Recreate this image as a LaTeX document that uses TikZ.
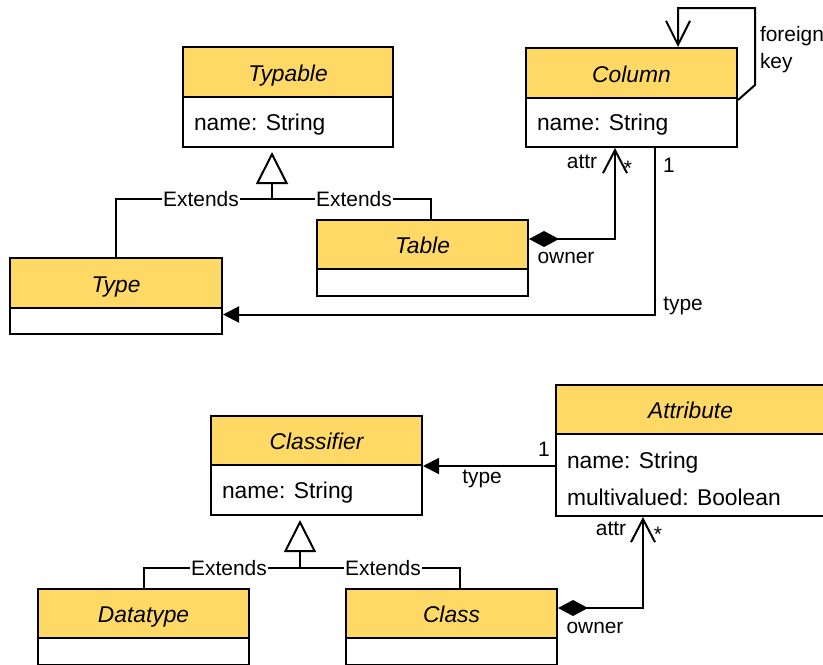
\documentclass[tikz,border=0pt]{standalone}
\usepackage{fontspec}
\setmainfont{Liberation Sans}
\usetikzlibrary{arrows.meta}
\definecolor{hdrfill}{HTML}{FFD966}
\begin{document}
\begin{tikzpicture}[x=0.5pt,y=-0.5pt, line width=1pt,
  hbox/.style={draw, fill=hdrfill, anchor=north west, inner sep=0pt,
    font=\fontsize{11.4}{13}\selectfont\itshape, text height=10pt, text depth=1pt},
  bbox/.style={draw, fill=white, anchor=north west, inner sep=0pt},
  atxt/.style={anchor=base west, inner sep=0pt, font=\fontsize{11.4}{13}\selectfont},
  lbl/.style={anchor=base, inner sep=0pt, font=\fontsize{10.45}{12.5}\selectfont},
  ext/.style={fill=white, inner xsep=0.8pt, inner ysep=1pt, text height=7.5pt, text depth=0pt,
    font=\fontsize{10.45}{12.5}\selectfont},
  gen/.style={-{Triangle[open,length=16pt,width=16pt]}, shorten >=2pt},
  comp/.style={{Diamond[length=15pt,width=8pt]}-{Straight Barb[length=11.5pt,width=12pt]}},
  refarr/.style={-{Triangle[length=8pt,width=8pt]}},
  fkarr/.style={-{Straight Barb[length=12pt,width=12pt]}}
]
\useasboundingbox (0,0) rectangle (823,664);
\clip (0,0) rectangle (823,664);

% ---- top part ----
\node[hbox, minimum width=105pt, minimum height=25pt] (typableH) at (182,46) {Typable};
\node[bbox, minimum width=105pt, minimum height=25pt] (typableB) at (182,96) {};
\node[atxt] (typableA) at (193,130) {name: String};

\node[hbox, minimum width=105.5pt, minimum height=25pt] (colH) at (525,47) {Column};
\node[bbox, minimum width=105.5pt, minimum height=24.5pt] (colB) at (525,97) {};
\node[atxt] (colA) at (536,130) {name: String};

\node[hbox, minimum width=106pt, minimum height=25pt] (typeH) at (9,257) {Type};
\node[bbox, minimum width=106pt, minimum height=13pt] (typeB) at (9,307) {};

\node[hbox, minimum width=105.5pt, minimum height=24.5pt] (tabH) at (316,219) {Table};
\node[bbox, minimum width=105.5pt, minimum height=13.5pt] (tabB) at (316,268) {};

% generalization (top)
\coordinate (g1) at (272,199);
\coordinate (x431) at (431,0);
\draw[gen] (g1) -- (typableB.south -| g1);
\draw (typeH.north) |- (g1) -| (tabH.north -| x431);
\node[ext] (e1) at (201,199) {Extends};
\node[ext] (e2) at (354,199) {Extends};

% foreign key self loop
\coordinate (fkA) at (755,85);
\coordinate (fkB) at (755,8);
\coordinate (fkC) at (678,8);
\draw[fkarr] ([yshift=-1.5pt]colB.north east) -- (fkA) -- (fkB) -- (fkC) -- (colH.north -| fkC);
\node[lbl, anchor=base west] (fk1) at (759,41) {foreign};
\node[lbl, anchor=base west] (fk2) at (759,68) {key};

% composition Table -> Column
\coordinate (x615) at (615,0);
\draw[comp] ([yshift=2.75pt]tabH.east) -| (colB.south -| x615);
\node[lbl] (l1) at (582,168) {attr};
\node[lbl] (l2) at (628,175) {*};
\node[lbl] (l3) at (566,263) {owner};

% reference Column -> Type
\coordinate (x655) at (655,0);
\draw[refarr] (colB.south -| x655) |- ([yshift=3.25pt]typeB.east);
\node[lbl] (l4) at (669,172) {1};
\node[lbl] (l5) at (683,310) {type};

% ---- bottom part ----
\node[hbox, minimum width=105.5pt, minimum height=24.5pt] (clsH) at (210,415) {Classifier};
\node[bbox, minimum width=105.5pt, minimum height=25pt] (clsB) at (210,464) {};
\node[atxt] (clsA) at (221,498) {name: String};

\node[hbox, minimum width=134.5pt, minimum height=24.5pt] (attH) at (555,384) {Attribute};
\node[bbox, minimum width=134.5pt, minimum height=41pt] (attB) at (555,433) {};
\node[atxt] (attA1) at (566,468) {name: String};
\node[atxt] (attA2) at (566,505) {multivalued: Boolean};

\node[hbox, minimum width=105.5pt, minimum height=24.5pt] (dtH) at (37,588) {Datatype};
\node[bbox, minimum width=105.5pt, minimum height=13.5pt] (dtB) at (37,637) {};

\node[hbox, minimum width=105.5pt, minimum height=24.5pt] (claH) at (345,588) {Class};
\node[bbox, minimum width=105.5pt, minimum height=13.5pt] (claB) at (345,637) {};

% generalization (bottom)
\coordinate (g2) at (300,568);
\coordinate (x460) at (460,0);
\draw[gen] (g2) -- (clsB.south -| g2);
\draw (dtH.north) |- (g2) -| (claH.north -| x460);
\node[ext] (e3) at (229,568) {Extends};
\node[ext] (e4) at (383,568) {Extends};

% reference Attribute -> Classifier
\draw[refarr] (attB.west |- clsH.south east) -- (clsH.south east);
\node[lbl] (l6) at (544,456) {1};
\node[lbl] (l7) at (482,483) {type};

% composition Class -> Attribute
\coordinate (x643) at (643,0);
\draw[comp] ([yshift=2.75pt]claH.east) -| (attB.south -| x643);
\node[lbl] (l8) at (611,535) {attr};
\node[lbl] (l9) at (658,541) {*};
\node[lbl] (l10) at (595,633) {owner};
\end{tikzpicture}
\end{document}
